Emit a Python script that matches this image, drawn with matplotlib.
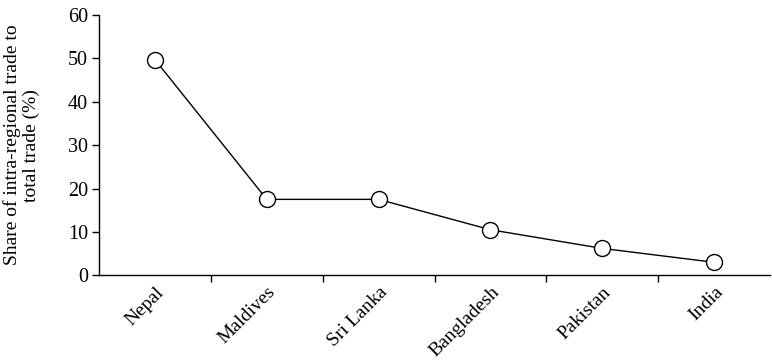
import numpy as np
import matplotlib.pyplot as plt
from matplotlib.ticker import FixedLocator

# -------------------------
# Data
# -------------------------
countries = ['Nepal', 'Maldives', 'Sri Lanka', 'Bangladesh', 'Pakistan', 'India']
share = [49.7, 17.5, 17.5, 10.5, 6.2, 3.0]   # intra-regional trade share (%)
y_ticks = [0, 10, 20, 30, 40, 50, 60]

plt.rcParams['font.family'] = ['Liberation Serif', 'DejaVu Serif']

# -------------------------
# Plot
# -------------------------
fig = plt.figure(figsize=(7.72, 3.62), dpi=100)
ax = fig.add_axes([0.1283, 0.2395, 0.8691, 0.7191])

x = np.arange(len(countries))
ax.plot(x, share, '-', color='black', linewidth=1.0, zorder=2)
ax.plot(x, share, 'o', markersize=11.5, markerfacecolor='white',
        markeredgecolor='black', markeredgewidth=1.0, zorder=3)

ax.set_xlim(-0.5, len(countries) - 0.5)
ax.set_ylim(0, 60)
ax.set_yticks(y_ticks)

# labels at category centres, tick marks between categories
ax.set_xticks(x)
ax.set_xticklabels(countries, rotation=45, ha='right', rotation_mode='anchor')
ax.tick_params(axis='x', which='major', length=0, pad=6, labelsize=14)
ax.xaxis.set_minor_locator(FixedLocator(x[:-1] + 0.5))
ax.tick_params(axis='x', which='minor', length=5, width=1, direction='out')
ax.tick_params(axis='y', length=5, width=1, direction='out', pad=3,
               labelsize=14.5)

ax.set_ylabel('Share of intra-regional trade to\ntotal trade (%)',
              fontsize=14, linespacing=1.1)
ax.yaxis.set_label_coords(-0.088, 0.5)

for s in ['top', 'right']:
    ax.spines[s].set_visible(False)
for s in ['left', 'bottom']:
    ax.spines[s].set_linewidth(1.0)

fig.savefig('out.png', dpi=100)
